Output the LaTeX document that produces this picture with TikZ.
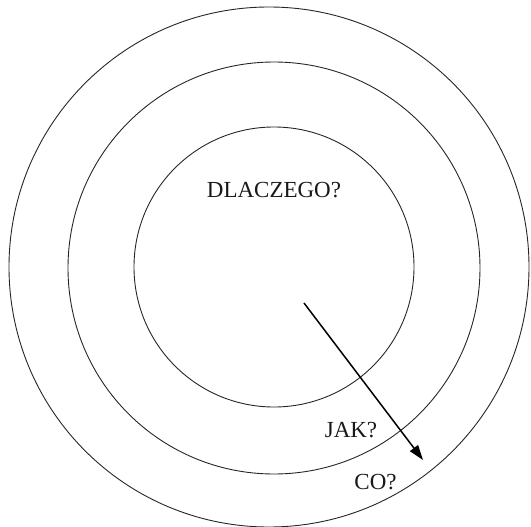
\documentclass[tikz,border=0pt]{standalone}
\usepackage{fontspec}
\setmainfont{Liberation Serif}
\usetikzlibrary{arrows.meta}
\begin{document}
\begin{tikzpicture}[x=1pt,y=-1pt,
  ring/.style={draw=black!85, line width=0.9pt, circle, inner sep=0pt},
  lbl/.style={font=\fontsize{23}{26}\selectfont, anchor=base, inner sep=0pt, text=black!90},
  arr/.style={line width=1.5pt, -{Triangle[length=15pt,width=10pt]}}]
\useasboundingbox (0,0) rectangle (531,527);
\begin{scope}
\clip (0,0) rectangle (531,527);
\node[ring, minimum size=520pt] (outer) at (269,267) {};
\node[ring, minimum size=412pt] (middle) at (274,268) {};
\node[ring, minimum size=280pt] (inner) at (274,267) {};
\end{scope}
\node[lbl] (why) at (274,197) {DLACZEGO?};
\node[lbl] (how) at (351,437) {JAK?};
\node[lbl] (what) at (375.5,489) {CO?};
\coordinate (s) at (304,303);
\coordinate (e) at (423,460);
\draw[arr] (s) -- (e);
\end{tikzpicture}
\end{document}
